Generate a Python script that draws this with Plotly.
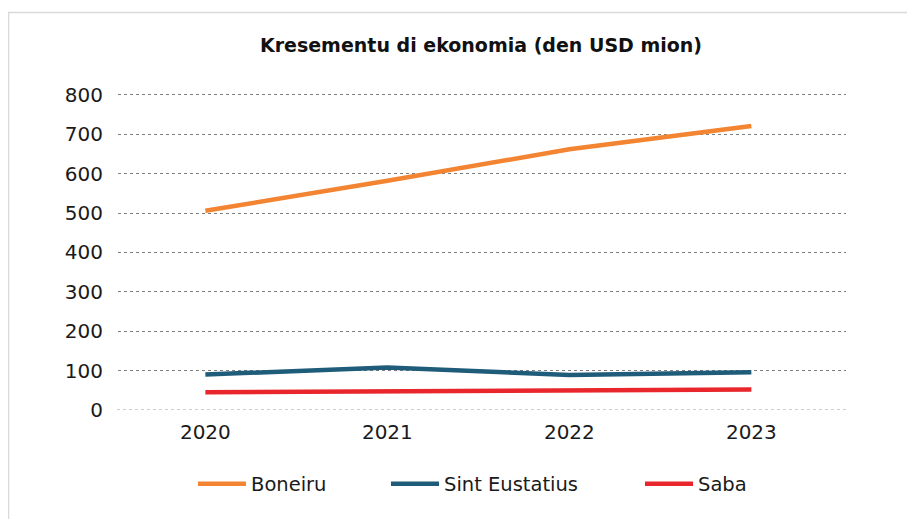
import plotly.graph_objects as go

years = ["2020", "2021", "2022", "2023"]
boneiru = [506, 582, 662, 721]
sint_eustatius = [90, 108, 89, 96]
saba = [45, 47, 49, 52]
y_ticks = [0, 100, 200, 300, 400, 500, 600, 700, 800]

FONT = "DejaVu Sans"
series = [
    ("Boneiru", boneiru, "#F28432", "legend"),
    ("Sint Eustatius", sint_eustatius, "#1E5C7A", "legend2"),
    ("Saba", saba, "#E8262B", "legend3"),
]

fig = go.Figure()
for name, vals, color, leg in series:
    fig.add_trace(go.Scatter(
        x=years, y=vals, name=name, mode="lines",
        line=dict(color=color, width=4.5),
        legend=leg,
    ))

OFF = 8  # page body margin
W, H = 907, 511
L = 118 - OFF
R = W - (846 - OFF)
T = 95 - OFF - 2
B = H - (410 - OFF)
pw = W - L - R
ph = H - T - B

def px_x(p):  # screen pixel -> paper x
    return (p - OFF - L) / pw

def px_y(p):  # screen pixel -> paper y
    return (H - B - (p - OFF)) / ph

leg_y = px_y(484)
leg_common = dict(orientation="h", yanchor="middle", xanchor="left", y=leg_y,
                  font=dict(family=FONT, size=19.5, color="#1a1a1a"),
                  bgcolor="rgba(0,0,0,0)", itemwidth=48)

fig.update_layout(
    width=W, height=H,
    margin=dict(l=L, r=R, t=T, b=B),
    paper_bgcolor="white", plot_bgcolor="white",
    font=dict(family=FONT, size=20, color="#1a1a1a"),
    title=dict(text="<b>Kresementu di ekonomia (den USD mion)</b>",
               x=(481 - OFF) / W, xanchor="center", y=1 - (45 - OFF) / H,
               yanchor="middle",
               font=dict(family=FONT, size=19, color="#111111")),
    xaxis=dict(type="category", range=[-0.48, 3.52], showgrid=False,
               showline=False, ticks="", ticklabelstandoff=8,
               tickfont=dict(family=FONT, size=20, color="#1a1a1a")),
    yaxis=dict(range=[0, 805], tickvals=y_ticks, showgrid=True,
               gridcolor="#7f7f7f", griddash="dot", gridwidth=1,
               zeroline=False, showline=False, ticks="",
               ticklabelstandoff=14,
               tickfont=dict(family=FONT, size=20, color="#1a1a1a")),
    legend=dict(x=px_x(200 - 7), **leg_common),
    legend2=dict(x=px_x(393 - 7), **leg_common),
    legend3=dict(x=px_x(647 - 7), **leg_common),
    showlegend=True,
)

# lighter baseline at zero
fig.add_shape(type="line", xref="paper", yref="y", x0=px_x(117), x1=1, y0=0, y1=0,
              line=dict(color="white", width=2), layer="above")
fig.add_shape(type="line", xref="paper", yref="y", x0=px_x(117), x1=1, y0=0, y1=0,
              line=dict(color="#bdbdbd", width=1.5, dash="dot"), layer="above")

# outer frame
fig.add_shape(type="rect", xref="paper", yref="paper",
              x0=px_x(8.5), x1=px_x(930), y0=px_y(540), y1=px_y(12.5),
              line=dict(color="#d9d9d9", width=1.5), fillcolor="rgba(0,0,0,0)",
              layer="below")

fig.write_html("out.html")
